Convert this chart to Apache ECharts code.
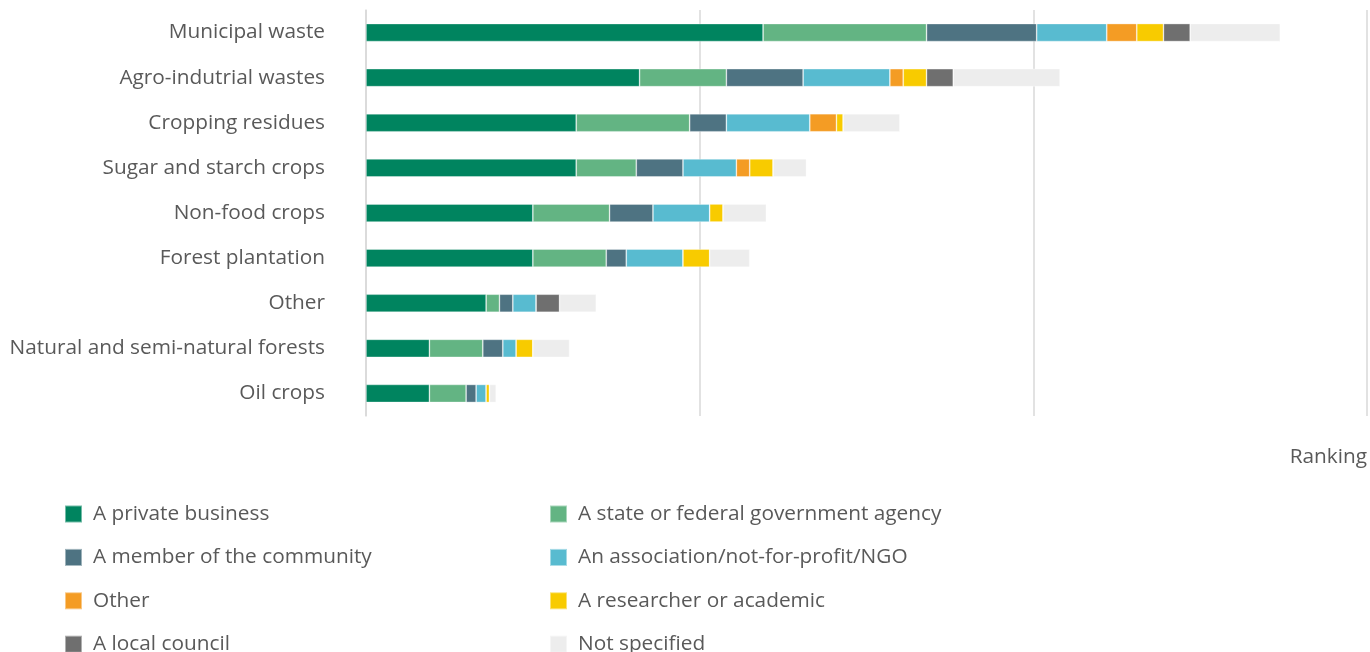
<!DOCTYPE html>
<html>
<head>
<meta charset="utf-8">
<script src="https://cdn.jsdelivr.net/npm/echarts@6/dist/echarts.min.js"></script>
<style>
  html, body { margin: 0; padding: 0; background: #ffffff; }
  #chart { width: 1370px; height: 652px; }
</style>
</head>
<body>
<div id="chart"></div>
<script>
// Biomass feedstock types, top to bottom
const categories = [
  'Municipal waste',
  'Agro-indutrial wastes',
  'Cropping residues',
  'Sugar and starch crops',
  'Non-food crops',
  'Forest plantation',
  'Other',
  'Natural and semi-natural forests',
  'Oil crops'
];

// Ranking score contributed by each respondent type, per feedstock
const privateBusiness   = [119, 82, 63, 63, 50, 50, 36, 19, 19];
const stateAgency       = [ 49, 26, 34, 18, 23, 22,  4, 16, 11];
const communityMember   = [ 33, 23, 11, 14, 13,  6,  4,  6,  3];
const association       = [ 21, 26, 25, 16, 17, 17,  7,  4,  3];
const otherRespondent   = [  9,  4,  8,  4,  0,  0,  0,  0,  0];
const researcher        = [  8,  7,  2,  7,  4,  8,  0,  5,  1];
const localCouncil      = [  8,  8,  0,  0,  0,  0,  7,  0,  0];
const notSpecified      = [ 27, 32, 17, 10, 13, 12, 11, 11,  2];

const seriesNames = [
  'A private business',
  'A state or federal government agency',
  'A member of the community',
  'An association/not-for-profit/NGO',
  'Other',
  'A researcher or academic',
  'A local council',
  'Not specified'
];
const seriesValues = [
  privateBusiness, stateAgency, communityMember, association,
  otherRespondent, researcher, localCouncil, notSpecified
];
const seriesColors = [
  '#00845F', '#63B483', '#4E7382', '#58BBD0',
  '#F49C24', '#F8CB00', '#6F6F6F', '#EDEDED'
];

const FONT = '"Open Sans", Lato, sans-serif';
const FONT_SIZE = 20.8;
const TEXT_COLOR = '#595959';

const chart = echarts.init(document.getElementById('chart'), null, { renderer: 'canvas' });

// Two vertical legend columns, each holding every other series
const legendCommon = {
  orient: 'vertical',
  icon: 'rect',
  padding: 0,
  height: 160,
  itemWidth: 17,
  itemHeight: 17,
  itemGap: 22.4,
  selectedMode: false,
  textStyle: {
    fontFamily: FONT,
    fontSize: FONT_SIZE,
    lineHeight: 20,
    color: TEXT_COLOR,
    padding: [0, 0, 0, 6]
  }
};

chart.setOption({
  animation: false,
  backgroundColor: '#ffffff',
  grid: { left: 366, right: 1, top: 10, height: 406, containLabel: false },
  legend: [
    Object.assign({}, legendCommon, {
      left: 64, top: 503.5,
      data: [seriesNames[0], seriesNames[2], seriesNames[4], seriesNames[6]]
    }),
    Object.assign({}, legendCommon, {
      left: 549, top: 503.5,
      data: [seriesNames[1], seriesNames[3], seriesNames[5], seriesNames[7]]
    })
  ],
  xAxis: {
    type: 'value',
    min: 0,
    max: 300,
    interval: 100,
    name: 'Ranking',
    nameLocation: 'end',
    nameGap: 0,
    nameTextStyle: {
      fontFamily: FONT,
      fontSize: FONT_SIZE,
      color: TEXT_COLOR,
      align: 'right',
      verticalAlign: 'top',
      padding: [31, 0, 0, 0]
    },
    axisLine: { show: false },
    axisTick: { show: false },
    axisLabel: { show: false },
    splitLine: { show: true, lineStyle: { color: '#D9D9D9', width: 1.5 } }
  },
  yAxis: {
    type: 'category',
    data: categories,
    inverse: true,
    axisTick: { show: false },
    axisLine: { show: true, lineStyle: { color: '#D9D9D9', width: 1.5 } },
    axisLabel: {
      fontFamily: FONT,
      fontSize: FONT_SIZE,
      color: TEXT_COLOR,
      margin: 41
    }
  },
  series: seriesNames.map((name, i) => ({
    name: name,
    type: 'bar',
    stack: 'total',
    barWidth: 18,
    data: seriesValues[i],
    itemStyle: {
      color: seriesColors[i],
      borderColor: 'rgba(255,255,255,0.45)',
      borderWidth: 0.75
    },
    emphasis: { disabled: true }
  }))
});
</script>
</body>
</html>
